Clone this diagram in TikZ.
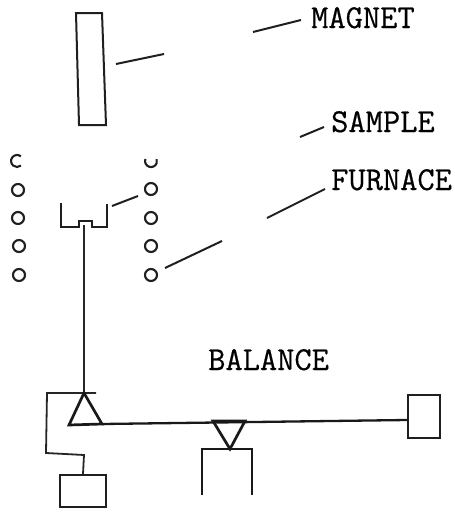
\documentclass[tikz,border=0pt]{standalone}
\usepackage{fontspec}
\newfontfamily\tyf{Latin Modern Mono}[FakeBold=0.5]
\begin{document}
\begin{tikzpicture}[x=1pt,y=-1pt,
  ln/.style={draw=black!88,line width=2pt,line join=miter},
  thick ln/.style={draw=black!90,line width=2.7pt},
  thin ln/.style={draw=black!85,line width=1.8pt},
  coil/.style={circle,draw=black!88,line width=2.1pt,minimum size=12pt,inner sep=0pt},
  lab/.style={inner sep=0pt,anchor=base west,font=\fontsize{33.5}{33.5}\selectfont\tyf\bfseries}]
\useasboundingbox (0,0) rectangle (455,512);
\draw[ln] (76,13) -- (102,13) -- (106,125) -- (79,125) -- cycle;
% coils
\draw[ln,line width=2.1pt] (20.9,156.4) arc (50:310:6pt);
\draw[ln,line width=2.1pt] (145.4,159) arc (160:380:6pt);
\foreach \n/\x/\y in {a/18/190,b/18/218,c/19/246,d/19/275,e/151/189,f/151/218,g/151/246,h/151/275}
  \node[coil] (coil\n) at (\x,\y) {};
% crucible
\draw[ln] (61,203) -- (61,227) -- (79,227) -- (79,220.5) -- (92,220.5) -- (92,227) -- (107,227) -- (107,204);
% rod and balance
\coordinate (rodtop) at (84,225);
\coordinate (apex) at (84,393);
\coordinate (tickl) at (47,393);
\coordinate (tickr) at (96,393);
\coordinate (wa) at (46,453);
\coordinate (wb) at (84,455);
\node[draw=black!88,line width=2pt,minimum width=46pt,minimum height=32pt,inner sep=0pt] (weight) at (83,491) {};
\draw[thin ln] (rodtop) -- (apex);
\draw[thin ln] (tickr) -- (tickl) -- (wa) -- (wb) -- (weight.north);
\coordinate (tl) at (69,425);
\coordinate (tr) at (102,424);
\draw[thick ln,line join=miter] (apex) -- (tl) -- (tr) -- cycle;
\node[draw=black!88,line width=2pt,minimum width=32pt,minimum height=43pt,inner sep=0pt] (rbox) at (424,416.5) {};
\draw[thick ln,line width=2.3pt] (tr) -- ([yshift=-3.5pt]rbox.west);
\coordinate (fl) at (213,421);
\coordinate (fr) at (245,421);
\coordinate (fb) at (230,449);
\draw[thick ln,line join=miter] (fl) -- (fr) -- (fb) -- cycle;
\draw[thick ln] (202,495) -- (202,449) -- (252,449) -- (252,495);
% labels
\node[lab] (magnet) at (311,28) {MAGNET};
\node[lab] (sample) at (331,132) {SAMPLE};
\node[lab] (furnace) at (331,190) {FURNACE};
\node[lab] (balance) at (208,370) {BALANCE};
% leaders
\coordinate (m1) at (301,20); \coordinate (m2) at (253,32);
\coordinate (m3) at (164,54); \coordinate (m4) at (116,64);
\coordinate (s1) at (324,127); \coordinate (s2) at (300,137);
\coordinate (s3) at (138,196); \coordinate (s4) at (112,206);
\coordinate (f1) at (325,189); \coordinate (f2) at (267,218);
\coordinate (f3) at (222,241); \coordinate (f4) at (165,268);
\draw[ln] (m1) -- (m2);
\draw[ln] (m3) -- (m4);
\draw[ln] (s1) -- (s2);
\draw[ln] (s3) -- (s4);
\draw[ln] (f1) -- (f2);
\draw[ln] (f3) -- (f4);
\end{tikzpicture}
\end{document}
